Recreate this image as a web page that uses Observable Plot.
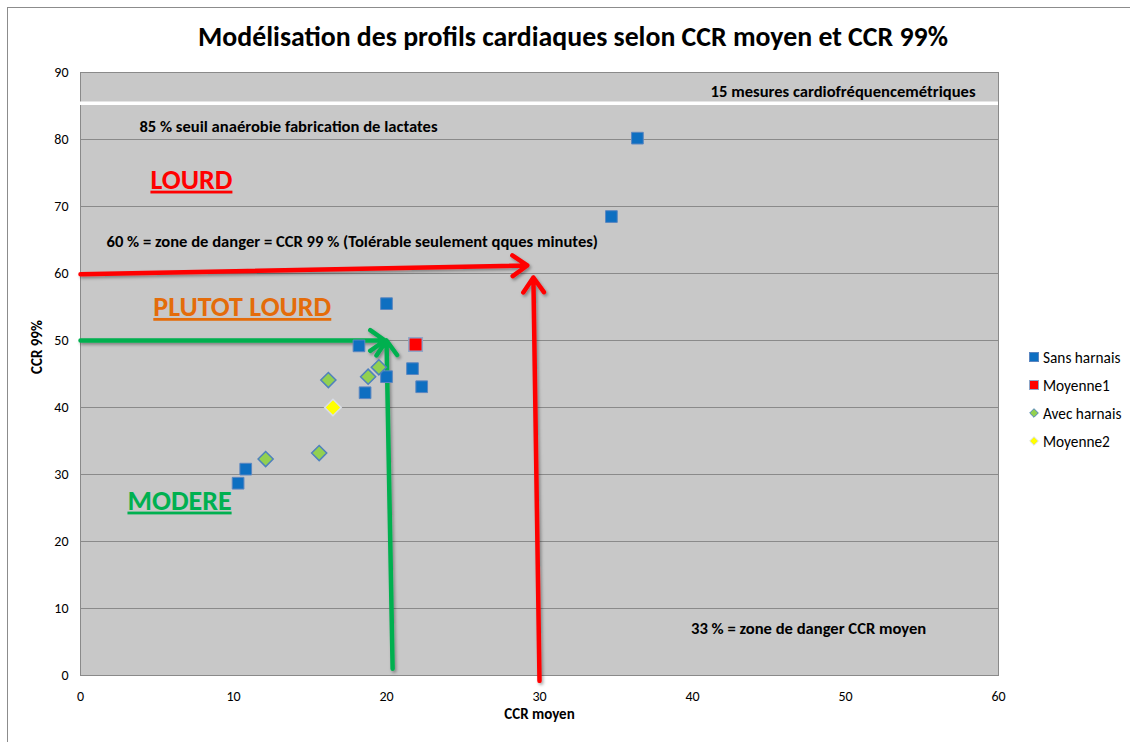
<!DOCTYPE html>
<html>
<head>
<meta charset="utf-8">
<script src="https://cdn.jsdelivr.net/npm/d3@7"></script>
<script src="https://cdn.jsdelivr.net/npm/@observablehq/plot@0.6"></script>
<style>
  body { margin: 0; background: #fff; font-family: Carlito, Lato, "Open Sans", sans-serif; }
  #wrap { position: relative; width: 1130px; height: 742px; overflow: hidden; }
  #border { position: absolute; left: 7px; top: 7px; width: 1140px; height: 760px; border: 1px solid #8c8c8c; box-sizing: border-box; }
  #title { position: relative; height: 55px; line-height: 74px; text-align: center; font-weight: bold; font-size: 27.8px; color: #000; padding-left: 16px; }
  #legend { position: absolute; left: 1029px; top: 343px; font-size: 15.3px; color: #000; }
  #legend div { height: 28px; display: flex; align-items: center; }
  #legend svg { margin-right: 4px; }
</style>
</head>
<body>
<div id="wrap">
  <div id="border"></div>
  <div id="title">Modélisation des profils cardiaques selon CCR moyen et CCR 99%</div>
  <div id="chart"></div>
  <div id="legend"></div>
</div>
<script>
// Data
const sansX = [36.4, 34.7, 20.0, 18.2, 20.0, 18.6, 21.7, 22.3, 10.8, 10.3];
const sansY = [80.2, 68.5, 55.5, 49.2, 44.6, 42.2, 45.8, 43.1, 30.8, 28.7];
const moy1X = [21.9];
const moy1Y = [49.4];
const avecX = [16.2, 18.8, 19.5, 12.1, 15.6];
const avecY = [44.1, 44.6, 46.0, 32.3, 33.2];
const moy2X = [16.5];
const moy2Y = [40.0];

const xTicks = [0, 10, 20, 30, 40, 50, 60];
const yTicks = [0, 10, 20, 30, 40, 50, 60, 70, 80, 90];
const gridY = [10, 20, 30, 40, 50, 60, 70, 80];

const seriesNames = ["Sans harnais", "Moyenne1", "Avec harnais", "Moyenne2"];

// annotation arrows
const arrowX1 = [0, 30.0, 0, 20.4];
const arrowY1 = [59.9, -0.8, 50.0, 1.0];
const arrowX2 = [29.2, 29.6, 19.9, 20.0];
const arrowY2 = [61.2, 59.4, 50.0, 50.0];
const arrowColor = ["red", "red", "green", "green"];

const lineY = [85.4];

// annotation texts
const endText = ["15 mesures cardiofréquencemétriques"];
const endX = [58.5];
const endY = [87.2];
const noteText = ["85 % seuil anaérobie fabrication de lactates",
  "60 % = zone de danger = CCR 99 % (Tolérable seulement qques minutes)", "33 % = zone de danger CCR moyen"];
const noteX = [3.85, 1.7, 39.9];
const noteY = [81.9, 64.8, 7.0];

const zoneText = ["LOURD", "PLUTOT LOURD", "MODERE"];
const zoneX = [4.57, 4.76, 3.07];
const zoneY = [74.0, 55.0, 26.1];
const zoneColor = ["#FF0000", "#E46C0A", "#00B050"];

const toRows = (xs, ys) => xs.map((x, i) => ({x, y: ys[i]}));
const arrows = arrowX1.map((x1, i) => ({x1, y1: arrowY1[i], x2: arrowX2[i], y2: arrowY2[i], c: arrowColor[i]}));
const ends = endText.map((t, i) => ({t, x: endX[i], y: endY[i]}));
const notes = noteText.map((t, i) => ({t, x: noteX[i], y: noteY[i]}));
const zones = zoneText.map((t, i) => ({t, x: zoneX[i], y: zoneY[i], c: zoneColor[i]}));

const colorMap = {red: "#FF0000", green: "#00B050"};

const chart = Plot.plot({
  width: 1130,
  height: 687,
  marginLeft: 80,
  marginRight: 132,
  marginTop: 17,
  marginBottom: 67,
  style: {fontFamily: "Carlito, Lato, 'Open Sans', sans-serif", fontSize: "14px", color: "#000", background: "transparent"},
  x: {domain: [0, 60], ticks: xTicks, tickSize: 0, tickPadding: 16, label: null, tickFormat: d => d},
  y: {domain: [0, 90], ticks: yTicks, tickSize: 0, tickPadding: 12, label: null, tickFormat: d => d},
  marks: [
    Plot.frame({fill: "#C8C8C8", stroke: null}),
    Plot.ruleY(gridY, {stroke: "#8A8A8A", strokeWidth: 1}),
    Plot.frame({stroke: "#8A8A8A", strokeWidth: 1}),
    Plot.ruleY(lineY, {stroke: "#FFFFFF", strokeWidth: 3.5, ariaLabel: "whiteline"}),
    Plot.arrow(arrows, {x1: "x1", y1: "y1", x2: "x2", y2: "y2", stroke: d => colorMap[d.c], strokeWidth: 4.5, headLength: 6, headAngle: 70, strokeLinecap: "round", strokeLinejoin: "round"}),
    Plot.dot(toRows(sansX, sansY), {x: "x", y: "y", symbol: "square", r: 6.6, fill: "#0E6FC1", stroke: "#5B86C0", strokeWidth: 1}),
    Plot.dot(toRows(moy1X, moy1Y), {x: "x", y: "y", symbol: "square", r: 7.6, fill: "#FF0000", stroke: "#8EA6C8", strokeWidth: 1.5}),
    Plot.dot(toRows(avecX, avecY), {x: "x", y: "y", symbol: "diamond2", r: 6.8, fill: "#92D050", stroke: "#4F81BD", strokeWidth: 1.5}),
    Plot.dot(toRows(moy2X, moy2Y), {x: "x", y: "y", symbol: "diamond2", r: 7.4, fill: "#FFFF00", stroke: "#D8DCE8", strokeWidth: 1.5}),
    Plot.text(ends, {x: "x", y: "y", text: "t", textAnchor: "end", fontWeight: "bold", fontSize: 16.6, fill: "#000"}),
    Plot.text(notes, {x: "x", y: "y", text: "t", textAnchor: "start", fontWeight: "bold", fontSize: 16.6, fill: "#000"}),
    Plot.text(zones, {x: "x", y: "y", text: "t", textAnchor: "start", fontWeight: "bold", fontSize: 28, fill: d => d.c}),
    Plot.text(["CCR 99%"], {frameAnchor: "left", dx: -43, rotate: -90, fontWeight: "bold", fontSize: 15}),
    Plot.text(["CCR moyen"], {frameAnchor: "bottom", dy: 43, fontWeight: "bold", fontSize: 15})
  ]
});

d3.select(chart).selectAll("text").each(function() {
  if (zoneText.includes(this.textContent)) this.style.textDecoration = "underline";
});

// drop shadows on arrows and white line
const defs = d3.select(chart).insert("defs", ":first-child");
const f = defs.append("filter").attr("id", "shadow").attr("filterUnits", "userSpaceOnUse")
  .attr("x", 0).attr("y", 0).attr("width", 1130).attr("height", 687);
f.append("feDropShadow").attr("dx", 1.5).attr("dy", 2).attr("stdDeviation", 1.5).attr("flood-color", "#000").attr("flood-opacity", 0.35);
d3.select(chart).selectAll("g[aria-label='arrow'], g[aria-label='whiteline']").attr("filter", "url(#shadow)");

document.getElementById("chart").appendChild(chart);

// Legend
const legendSymbols = [
  `<svg width="10" height="10"><rect x="0.5" y="0.5" width="9" height="9" fill="#0E6FC1" stroke="#5B86C0"/></svg>`,
  `<svg width="10" height="10"><rect x="0.5" y="0.5" width="9" height="9" fill="#FF0000" stroke="#8EA6C8"/></svg>`,
  `<svg width="10" height="10"><path d="M5,0.7L9.3,5L5,9.3L0.7,5Z" fill="#92D050" stroke="#4F81BD"/></svg>`,
  `<svg width="10" height="10"><path d="M5,0.7L9.3,5L5,9.3L0.7,5Z" fill="#FFFF00" stroke="#D8DCE8"/></svg>`
];
document.getElementById("legend").innerHTML = seriesNames.map((n, i) => `<div>${legendSymbols[i]}<span>${n}</span></div>`).join("");
</script>
</body>
</html>
